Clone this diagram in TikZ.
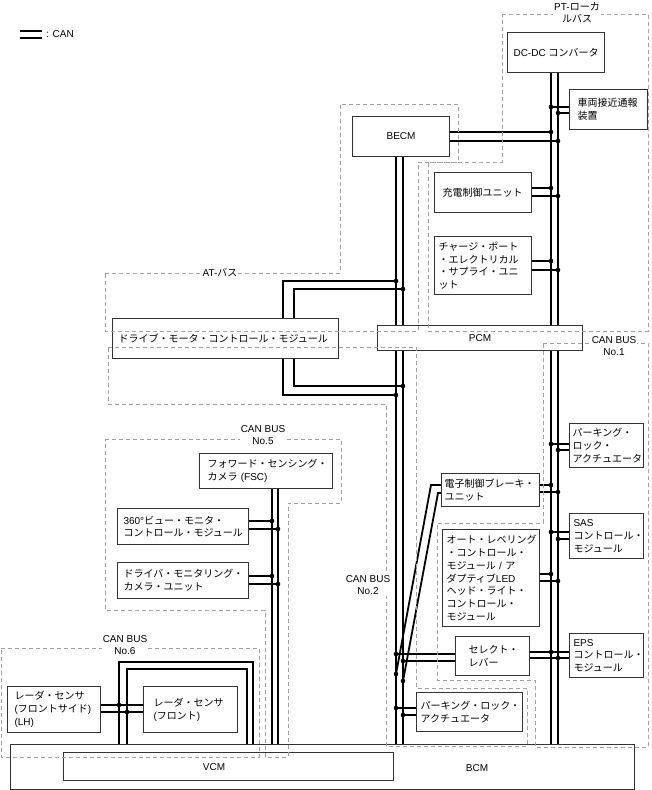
\documentclass[tikz,border=0pt]{standalone}
\usepackage{fontspec}
\usetikzlibrary{backgrounds}
\setmainfont{Liberation Sans}
\newfontfamily\jpfont{Noto Sans CJK JP}
\newcommand{\JP}[1]{{\jpfont #1}}
\definecolor{boxc}{HTML}{333333}
\definecolor{dashc}{HTML}{A0A0A0}
\tikzset{
  box/.style={draw=boxc, line width=1.1pt, fill=white, rectangle, inner ysep=0pt,
    anchor=north west, font=\fontsize{10}{12.8}\selectfont},
  bus/.style={line width=1.8pt, black},
  region/.style={draw=dashc, line width=0.7pt, dash pattern=on 4pt off 3pt},
  rlabel/.style={fill=white, inner sep=1pt, align=center, font=\fontsize{10}{12.2}\selectfont},
  plain/.style={font=\fontsize{10}{12}\selectfont, inner sep=0pt},
  jdot/.style={fill=black}
}
\begin{document}
\begin{tikzpicture}[x=1pt,y=-1pt]
\useasboundingbox (0,0) rectangle (651,790);
% ---------- junction coordinates ----------
\coordinate (jS1) at (551,107); \coordinate (jS2) at (558,113);
\coordinate (jB1) at (551,132); \coordinate (jB2) at (558,141);
\coordinate (jJ1) at (551,188); \coordinate (jJ2) at (558,196);
\coordinate (jC1) at (551,261); \coordinate (jC2) at (558,270);
\coordinate (jP1) at (551,444); \coordinate (jP2) at (558,450);
\coordinate (jE1) at (551,485); \coordinate (jE2) at (558,492);
\coordinate (jA1) at (551,532); \coordinate (jA2) at (558,539);
\coordinate (jL1) at (551,574); \coordinate (jL2) at (558,581);
\coordinate (jR1) at (551,652); \coordinate (jR2) at (558,658);
\coordinate (jD1) at (396,281); \coordinate (jD2) at (403,289);
\coordinate (jD3) at (403,386); \coordinate (jD4) at (396,395);
\coordinate (jX1) at (396,654); \coordinate (jX2) at (403,661);
\coordinate (jY1) at (396,674); \coordinate (jY2) at (403,681);
\coordinate (jK1) at (396,708); \coordinate (jK2) at (403,715);
\coordinate (jV1) at (272,521); \coordinate (jV2) at (278,529);
\coordinate (jM1) at (272,576); \coordinate (jM2) at (278,584);
\coordinate (jQ1) at (119,705); \coordinate (jQ2) at (127,712);
\coordinate (d1) at (283,281); \coordinate (d2) at (294,289);
\coordinate (d3) at (294,386); \coordinate (d4) at (283,395);
\coordinate (e1) at (431,485); \coordinate (e2) at (438,493);
\coordinate (q6a) at (119,662); \coordinate (q6b) at (253,662);
\coordinate (q6c) at (127,669); \coordinate (q6d) at (247,669);
\coordinate (lgA) at (20,31); \coordinate (lgA2) at (42,31);
\coordinate (lgB) at (20,38); \coordinate (lgB2) at (42,38);
% ---------- boxes ----------
\node[box, minimum width=97pt, minimum height=40pt, align=center] (dcdc) at (507,32) {DC-DC \JP{コンバータ}};
\node[box, minimum width=78pt, minimum height=40pt, text width=62pt, inner xsep=8pt, align=left] (sharyo) at (569,89) {\JP{車両接近通報}\\\JP{装置}};
\node[box, minimum width=97pt, minimum height=40pt] (becm) at (352,116) {BECM};
\node[box, minimum width=97pt, minimum height=40pt, text width=81pt, inner xsep=8pt, align=left] (juden) at (434,172) {\JP{充電制御ユニット}};
\node[box, minimum width=97pt, minimum height=58pt, text width=89pt, inner xsep=4pt, align=left] (charge) at (434,236) {\JP{チャージ・ポート}\\\JP{・エレクトリカル}\\\JP{・サプライ・ユニ}\\\JP{ット}};
\node[box, minimum width=226pt, minimum height=40pt, text width=214pt, inner xsep=6pt, align=left] (dmcm) at (112,318) {\JP{ドライブ・モータ・コントロール・モジュール}};
\node[box, minimum width=133pt, minimum height=35pt, text width=117pt, inner xsep=8pt, align=left] (fsc) at (199,453) {\JP{フォワード・センシング・}\\\JP{カメラ} (FSC)};
\node[box, minimum width=131pt, minimum height=36pt, text width=119pt, inner xsep=6pt, align=left] (v360) at (117,508) {360°\JP{ビュー・モニタ・}\\\JP{コントロール・モジュール}};
\node[box, minimum width=131pt, minimum height=36pt, text width=119pt, inner xsep=6pt, align=left] (dmc) at (117,562) {\JP{ドライバ・モニタリング・}\\\JP{カメラ・ユニット}};
\node[box, minimum width=74pt, minimum height=44pt, text width=68pt, inner xsep=3pt, align=left] (pla1) at (569,423) {\JP{パーキング・}\\\JP{ロック・}\\\JP{アクチュエータ}};
\node[box, minimum width=98pt, minimum height=33pt, text width=92pt, inner xsep=3pt, align=left] (ebu) at (441,473) {\JP{電子制御ブレーキ・}\\\JP{ユニット}};
\node[box, minimum width=74pt, minimum height=45pt, text width=66pt, inner xsep=4pt, align=left] (sas) at (569,513) {SAS\\\JP{コントロール・}\\\JP{モジュール}};
\node[box, minimum width=97pt, minimum height=97pt, text width=89pt, inner xsep=4pt, align=left] (alm) at (442,529) {\JP{オート・レベリング}\\\JP{・コントロール・}\\\JP{モジュール} / \JP{ア}\\\JP{ダプティブ}LED\\\JP{ヘッド・ライト・}\\\JP{コントロール・}\\\JP{モジュール}};
\node[box, minimum width=74pt, minimum height=39pt, text width=48pt, inner xsep=13pt, align=left] (sel) at (455,636) {\JP{セレクト・}\\\JP{レバー}};
\node[box, minimum width=74pt, minimum height=44pt, text width=66pt, inner xsep=4pt, align=left] (eps) at (569,633) {EPS\\\JP{コントロール・}\\\JP{モジュール}};
\node[box, minimum width=106pt, minimum height=39pt, text width=98pt, inner xsep=4pt, align=left] (pla2) at (416,692) {\JP{パーキング・ロック・}\\\JP{アクチュエータ}};
\node[box, minimum width=93pt, minimum height=46pt, text width=79pt, inner xsep=7pt, align=left] (rlh) at (7,686) {\JP{レーダ・センサ}\\(\JP{フロントサイド})\\(LH)};
\node[box, minimum width=94pt, minimum height=46pt, text width=74pt, inner xsep=10pt, align=left] (rfr) at (143,686) {\JP{レーダ・センサ}\\(\JP{フロント})};
\node[box, minimum width=624pt, minimum height=45pt] (bcm) at (10,744) {};
\node[box, minimum width=330pt, minimum height=28pt] (vcm) at (63,752) {};
\node[box, minimum width=205pt, minimum height=25pt] (pcm) at (377,325) {PCM};
\node[plain] (bcmt) at (477,768) {BCM};
\node[plain] (vcmt) at (214,767) {VCM};
% ---------- buses and connectors (behind boxes) ----------
\begin{scope}[on background layer]
  % right bus
  \draw[bus] (jS1 |- dcdc.south) -- (jS1 |- bcm.north);
  \draw[bus] (jS2 |- dcdc.south) -- (jS2 |- bcm.north);
  % left bus
  \draw[bus] (jD1 |- becm.south) -- (jD1 |- bcm.north);
  \draw[bus] (jD2 |- becm.south) -- (jD2 |- bcm.north);
  % CAN No.5 bus
  \draw[bus] (jV1 |- fsc.south) -- (jV1 |- vcm.north);
  \draw[bus] (jV2 |- fsc.south) -- (jV2 |- vcm.north);
  % CAN No.6 loop
  \draw[bus] (q6a |- bcm.north) -- (q6a) -- (q6b) -- (q6b |- vcm.north);
  \draw[bus] (q6c |- bcm.north) -- (q6c) -- (q6d) -- (q6d |- vcm.north);
  % drive motor loops
  \draw[bus] (d1 |- dmcm.north) -- (d1) -- (jD1);
  \draw[bus] (d2 |- dmcm.north) -- (d2) -- (jD2);
  \draw[bus] (d3 |- dmcm.south) -- (d3) -- (jD3);
  \draw[bus] (d4 |- dmcm.south) -- (d4) -- (jD4);
  % right bus stubs
  \draw[bus] (jS1) -- (sharyo.west |- jS1);
  \draw[bus] (jS2) -- (sharyo.west |- jS2);
  \draw[bus] (becm.east |- jB1) -- (jB1);
  \draw[bus] (becm.east |- jB2) -- (jB2);
  \draw[bus] (juden.east |- jJ1) -- (jJ1);
  \draw[bus] (juden.east |- jJ2) -- (jJ2);
  \draw[bus] (charge.east |- jC1) -- (jC1);
  \draw[bus] (charge.east |- jC2) -- (jC2);
  \draw[bus] (jP1) -- (pla1.west |- jP1);
  \draw[bus] (jP2) -- (pla1.west |- jP2);
  \draw[bus] (ebu.east |- jE1) -- (jE1);
  \draw[bus] (ebu.east |- jE2) -- (jE2);
  \draw[bus] (jA1) -- (sas.west |- jA1);
  \draw[bus] (jA2) -- (sas.west |- jA2);
  \draw[bus] (alm.east |- jL1) -- (jL1);
  \draw[bus] (alm.east |- jL2) -- (jL2);
  \draw[bus] (sel.east |- jR1) -- (eps.west |- jR1);
  \draw[bus] (sel.east |- jR2) -- (eps.west |- jR2);
  % left bus stubs
  \draw[bus] (jX1) -- (sel.west |- jX1);
  \draw[bus] (jX2) -- (sel.west |- jX2);
  \draw[bus] (ebu.west |- e1) -- (e1) -- (jY1);
  \draw[bus] (ebu.west |- e2) -- (e2) -- (jY2);
  \draw[bus] (jK1) -- (pla2.west |- jK1);
  \draw[bus] (jK2) -- (pla2.west |- jK2);
  % No.5 stubs
  \draw[bus] (v360.east |- jV1) -- (jV1);
  \draw[bus] (v360.east |- jV2) -- (jV2);
  \draw[bus] (dmc.east |- jM1) -- (jM1);
  \draw[bus] (dmc.east |- jM2) -- (jM2);
  % No.6 radar lines
  \draw[bus] (rlh.east |- jQ1) -- (rfr.west |- jQ1);
  \draw[bus] (rlh.east |- jQ2) -- (rfr.west |- jQ2);
\end{scope}
% ---------- junction dots ----------
\foreach \p in {jS1,jS2,jB1,jB2,jJ1,jJ2,jC1,jC2,jP1,jP2,jE1,jE2,jA1,jA2,jL1,jL2,jR1,jR2,
                jD1,jD2,jD3,jD4,jX1,jX2,jY1,jY2,jK1,jK2,jV1,jV2,jM1,jM2,jQ1,jQ2}
  \fill[jdot] (\p) circle (2.3pt);
% ---------- dashed bus regions ----------
\draw[region] (502,14) -- (648,14) -- (648,331) -- (428,331) -- (428,162) -- (502,162) -- cycle;
\draw[region] (105,273) -- (340,273) -- (340,104) -- (458,104) -- (458,162) -- (418,162) -- (418,331) -- (105,331) -- cycle;
\draw[region] (108,347) -- (416,347) -- (416,688) -- (527,688) -- (527,746) -- (386,746) -- (386,404) -- (108,404) -- cycle;
\draw[region] (543,343) -- (648,343) -- (648,747) -- (535,747) -- (535,680) -- (437,680) -- (437,523) -- (543,523) -- cycle;
\draw[region] (105,439) -- (341,439) -- (341,503) -- (288,503) -- (288,757) -- (265,757) -- (265,610) -- (105,610) -- cycle;
\draw[region] (1,648) -- (259,648) -- (259,757) -- (1,757) -- cycle;
% ---------- region labels ----------
\node[rlabel] (lpt) at (577,13) {PT-\JP{ローカ}\\\JP{ルバス}};
\node[rlabel] (lat) at (220,273) {AT-\JP{バス}};
\node[rlabel] (l1) at (614,346) {CAN BUS\\No.1};
\node[rlabel] (l2) at (368,585) {CAN BUS\\No.2};
\node[rlabel] (l5) at (263,435) {CAN BUS\\No.5};
\node[rlabel] (l6) at (125,645) {CAN BUS\\No.6};
% ---------- legend ----------
\node[plain, anchor=west] (lgt) at (46,34.5) {: CAN};
\draw[line width=1.8pt] (lgA) -- (lgA2);
\draw[line width=1.8pt] (lgB) -- (lgB2);
\end{tikzpicture}
\end{document}
